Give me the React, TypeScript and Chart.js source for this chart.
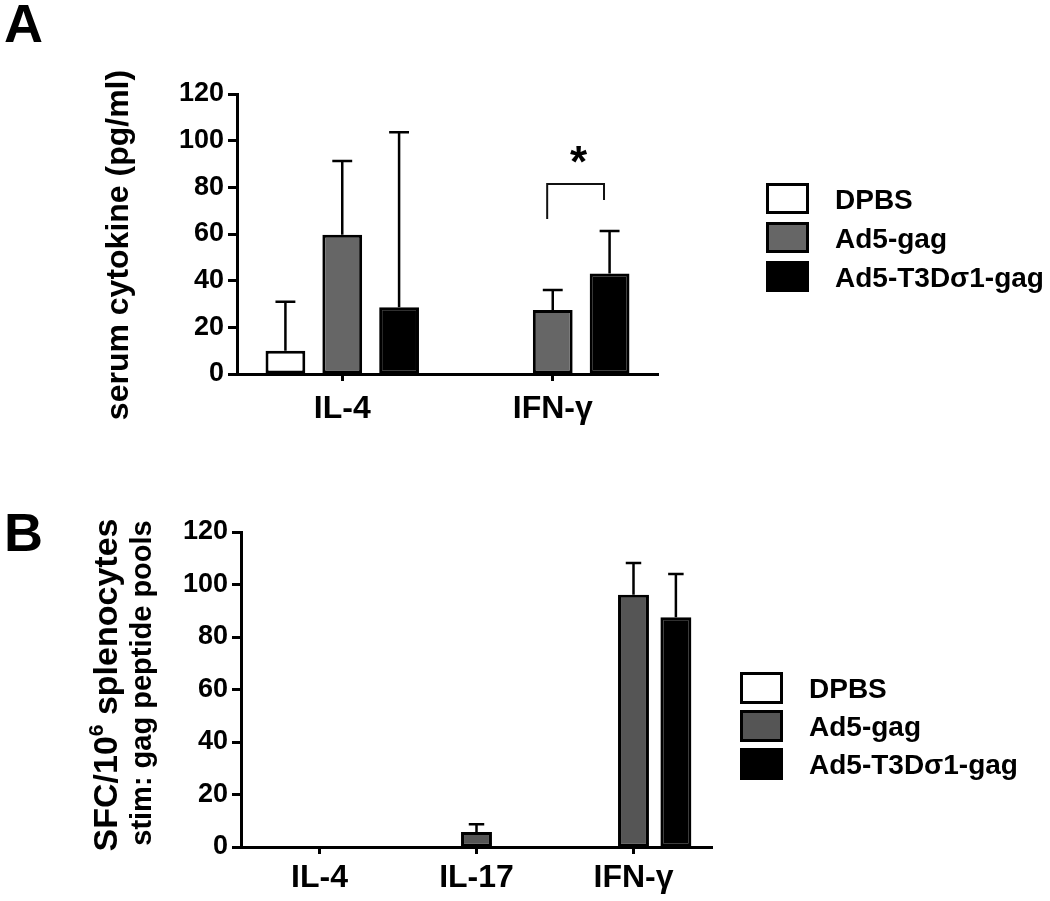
import React, { useEffect, useRef } from 'react';
import { Chart, registerables } from 'chart.js';

Chart.register(...registerables);

const FONT = '"Liberation Sans", Arial, Helvetica, sans-serif';

// ---------- shared ----------
const seriesLabels = ['DPBS', 'Ad5-gag', 'Ad5-T3Dσ1-gag'];
const yTickStep = 20;
const yMax = 120;

// ---------- Panel A: serum cytokine (pg/ml) ----------
const categoriesA = ['IL-4', 'IFN-γ'];
const dpbsA = [10, 0];
const ad5GagA = [59.7, 27.4];
const ad5T3dA = [28.6, 43.1];
const dpbsErrA = [21, 0];
const ad5GagErrA = [31.6, 8.6];
const ad5T3dErrA = [75, 18.2];
// significance bracket over IFN-γ: [top, left leg end, right leg end]
const sigCategoryA = 'IFN-γ';
const sigBracketA = [81.4, 66.4, 74.6];
const sigLabelA = '*';

// ---------- Panel B: SFC / 10^6 splenocytes ----------
const categoriesB = ['IL-4', 'IL-17', 'IFN-γ'];
const dpbsB = [0, 0, 0];
const ad5GagB = [0, 5.7, 96.1];
const ad5T3dB = [0, 0, 87.5];
const dpbsErrB = [0, 0, 0];
const ad5GagErrB = [0, 3, 12.1];
const ad5T3dErrB = [0, 0, 16.5];

type Seg = { t: string; size: number; rise?: number };
type SideLine = { x: number; y: number; segs: Seg[] };

const errorBarPlugin = {
  id: 'errorBars',
  afterDatasetsDraw(chart: any) {
    const { ctx } = chart;
    const yScale = chart.scales.y;
    chart.data.datasets.forEach((ds: any, i: number) => {
      const meta = chart.getDatasetMeta(i);
      const errs: number[] = ds.errors || [];
      meta.data.forEach((bar: any, j: number) => {
        const err = errs[j];
        const v = ds.data[j];
        if (!err || v == null) return;
        const yTop = yScale.getPixelForValue(v + err);
        const half = bar.width * 0.25;
        ctx.save();
        ctx.strokeStyle = '#000';
        ctx.lineWidth = 2.5;
        ctx.beginPath();
        ctx.moveTo(bar.x, bar.y);
        ctx.lineTo(bar.x, yTop);
        ctx.moveTo(bar.x - half, yTop);
        ctx.lineTo(bar.x + half, yTop);
        ctx.stroke();
        ctx.restore();
      });
    });
  },
};

function makeLegend(x: number, y: number, step: number, w: number, h: number, textX: number, fontSize: number) {
  return {
    id: 'boxLegend',
    afterDraw(chart: any) {
      const { ctx } = chart;
      chart.data.datasets.forEach((ds: any, i: number) => {
        const top = y + i * step;
        ctx.save();
        ctx.fillStyle = ds.backgroundColor;
        ctx.fillRect(x, top, w, h);
        ctx.lineWidth = 3;
        ctx.strokeStyle = ds.borderColor;
        ctx.strokeRect(x + 1.5, top + 1.5, w - 3, h - 3);
        ctx.fillStyle = '#000';
        ctx.font = `bold ${fontSize}px ${FONT}`;
        ctx.textAlign = 'left';
        ctx.textBaseline = 'alphabetic';
        ctx.fillText(ds.label, textX, top + h / 2 + fontSize * 0.358);
        ctx.restore();
      });
    },
  };
}

function makeSideTitle(lines: SideLine[]) {
  return {
    id: 'sideTitle',
    afterDraw(chart: any) {
      const { ctx } = chart;
      lines.forEach((line) => {
        ctx.save();
        ctx.translate(line.x, line.y);
        ctx.rotate(-Math.PI / 2);
        ctx.fillStyle = '#000';
        ctx.textAlign = 'left';
        ctx.textBaseline = 'alphabetic';
        let total = 0;
        line.segs.forEach((s) => {
          ctx.font = `bold ${s.size}px ${FONT}`;
          total += ctx.measureText(s.t).width;
        });
        let cx = -total / 2;
        line.segs.forEach((s) => {
          ctx.font = `bold ${s.size}px ${FONT}`;
          ctx.fillText(s.t, cx, -(s.rise || 0));
          cx += ctx.measureText(s.t).width;
        });
        ctx.restore();
      });
    },
  };
}

const bracketPlugin = {
  id: 'sigBracket',
  afterDatasetsDraw(chart: any) {
    const { ctx } = chart;
    const y = chart.scales.y;
    const idx = categoriesA.indexOf(sigCategoryA);
    const b1 = chart.getDatasetMeta(1).data[idx];
    const b2 = chart.getDatasetMeta(2).data[idx];
    if (!b1 || !b2) return;
    const shift = -b1.width * 0.14;
    const x1 = b1.x + shift;
    const x2 = b2.x + shift;
    const yTop = y.getPixelForValue(sigBracketA[0]);
    const yL = y.getPixelForValue(sigBracketA[1]);
    const yR = y.getPixelForValue(sigBracketA[2]);
    ctx.save();
    ctx.strokeStyle = '#111';
    ctx.lineWidth = 2;
    ctx.beginPath();
    ctx.moveTo(x1, yL);
    ctx.lineTo(x1, yTop);
    ctx.lineTo(x2, yTop);
    ctx.lineTo(x2, yR);
    ctx.stroke();
    ctx.fillStyle = '#000';
    ctx.font = `bold 44px ${FONT}`;
    ctx.textAlign = 'center';
    ctx.textBaseline = 'alphabetic';
    ctx.fillText(sigLabelA, (x1 + x2) / 2 + 3, yTop - 7);
    ctx.restore();
  },
};

function barDataset(label: string, data: number[], errors: number[], color: string) {
  return {
    label,
    data,
    errors,
    backgroundColor: color,
    borderColor: '#000',
    borderWidth: 3,
    borderSkipped: false,
    inflateAmount: 0,
  } as any;
}

function scalesFor(xHeight: number, yWidth: number, xPad: number) {
  return {
    x: {
      grid: { display: true, drawOnChartArea: false, offset: false, tickLength: 7, tickColor: '#000', tickWidth: 3 },
      border: { display: true, color: '#000', width: 3 },
      ticks: { color: '#000', font: { family: FONT, size: 32, weight: 'bold' }, padding: xPad, autoSkip: false, maxRotation: 0 },
      afterFit: (s: any) => { s.height = xHeight; },
    },
    y: {
      min: 0,
      max: yMax,
      grid: { display: true, drawOnChartArea: false, tickLength: 9, tickColor: '#000', tickWidth: 3 },
      border: { display: true, color: '#000', width: 3 },
      ticks: { stepSize: yTickStep, color: '#000', font: { family: FONT, size: 27, weight: 'bold' }, padding: 4 },
      afterFit: (s: any) => { s.width = yWidth; },
    },
  } as any;
}

export default function App() {
  const refA = useRef<HTMLCanvasElement>(null);
  const refB = useRef<HTMLCanvasElement>(null);

  useEffect(() => {
    const chartA = new Chart(refA.current as HTMLCanvasElement, {
      type: 'bar',
      data: {
        labels: categoriesA,
        datasets: [
          barDataset(seriesLabels[0], dpbsA, dpbsErrA, '#ffffff'),
          barDataset(seriesLabels[1], ad5GagA, ad5GagErrA, '#666666'),
          barDataset(seriesLabels[2], ad5T3dA, ad5T3dErrA, '#000000'),
        ],
      },
      options: {
        responsive: false,
        animation: false,
        devicePixelRatio: 1,
        layout: { padding: { top: 94, right: 392, left: 0, bottom: 0 } },
        plugins: { legend: { display: false }, tooltip: { enabled: false } },
        datasets: { bar: { categoryPercentage: 0.81, barPercentage: 0.7 } },
        scales: scalesFor(76, 237, 9),
      } as any,
      plugins: [
        errorBarPlugin,
        bracketPlugin,
        makeLegend(766, 183, 39, 43, 31, 835, 28),
        makeSideTitle([{ x: 128, y: 245, segs: [{ t: 'serum cytokine (pg/ml)', size: 32 }] }]),
      ],
    });

    const chartB = new Chart(refB.current as HTMLCanvasElement, {
      type: 'bar',
      data: {
        labels: categoriesB,
        datasets: [
          barDataset(seriesLabels[0], dpbsB, dpbsErrB, '#ffffff'),
          barDataset(seriesLabels[1], ad5GagB, ad5GagErrB, '#555555'),
          barDataset(seriesLabels[2], ad5T3dB, ad5T3dErrB, '#000000'),
        ],
      },
      options: {
        responsive: false,
        animation: false,
        devicePixelRatio: 1,
        layout: { padding: { top: 82, right: 338, left: 0, bottom: 0 } },
        plugins: { legend: { display: false }, tooltip: { enabled: false } },
        datasets: { bar: { categoryPercentage: 0.81, barPercentage: 0.73 } },
        scales: scalesFor(54, 241, 5),
      } as any,
      plugins: [
        errorBarPlugin,
        makeLegend(740, 222, 38, 43, 32, 809, 28),
        makeSideTitle([
          { x: 117, y: 235, segs: [{ t: 'SFC/10', size: 34 }, { t: '6', size: 21, rise: 14 }, { t: ' splenocytes', size: 34 }] },
          { x: 151, y: 233, segs: [{ t: 'stim: gag peptide pools', size: 29 }] },
        ]),
      ],
    });

    return () => {
      chartA.destroy();
      chartB.destroy();
    };
  }, []);

  const panelLabel: React.CSSProperties = {
    position: 'absolute',
    left: 4,
    fontFamily: FONT,
    fontWeight: 'bold',
    fontSize: 54,
    lineHeight: '54px',
    color: '#000',
  };

  return (
    <div style={{ position: 'absolute', left: 0, top: 0, width: 1050, height: 901, background: '#fff', overflow: 'hidden' }}>
      <canvas ref={refA} width={1050} height={450} style={{ position: 'absolute', left: 0, top: 0, display: 'block' }} />
      <canvas ref={refB} width={1050} height={451} style={{ position: 'absolute', left: 0, top: 450, display: 'block' }} />
      <span style={{ ...panelLabel, top: -4 }}>A</span>
      <span style={{ ...panelLabel, top: 505 }}>B</span>
    </div>
  );
}
